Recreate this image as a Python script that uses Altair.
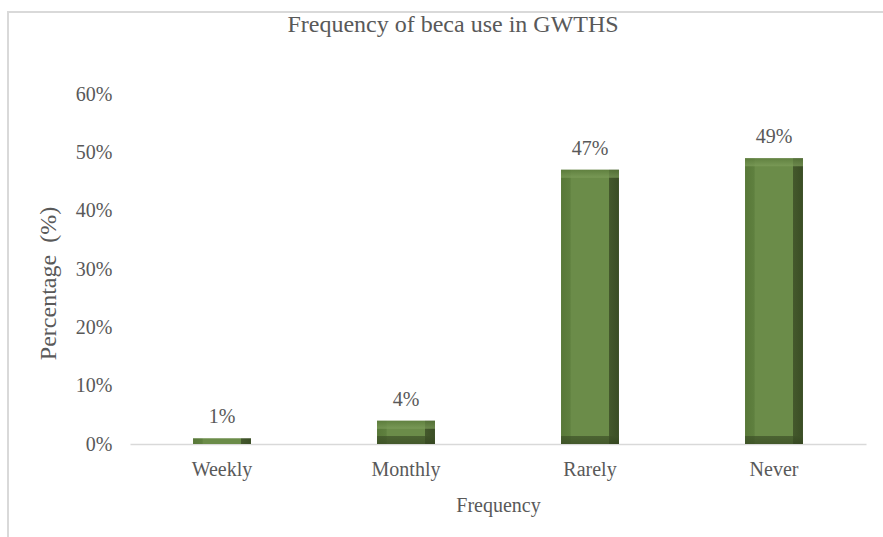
import altair as alt
import pandas as pd

# Survey results: how often beca is used
categories = ["Weekly", "Monthly", "Rarely", "Never"]
percentages = [1, 4, 47, 49]
y_ticks = [0, 10, 20, 30, 40, 50, 60]

df = pd.DataFrame({"freq": categories, "pct": percentages})
df["label"] = df["pct"].astype(str) + "%"

FONT = "Liberation Serif"
GREY = "#595959"

x_enc = alt.X(
    "freq:N",
    sort=categories,
    title="Frequency",
    scale=alt.Scale(paddingInner=0.685, paddingOuter=0.3425),
    axis=alt.Axis(
        labelAngle=0, labelFont=FONT, labelFontSize=20, labelColor=GREY,
        titleFont=FONT, titleFontSize=20, titleColor=GREY, titleFontWeight="normal",
        domainColor="#d9d9d9", domainWidth=1.5, ticks=False, labelPadding=15, titlePadding=16,
    ),
)
y_enc = alt.Y(
    "pct:Q",
    title="Percentage\u2002(%)",
    scale=alt.Scale(domain=[0, 60], nice=False),
    axis=alt.Axis(
        values=y_ticks, labelExpr="datum.value + '%'", grid=False, domain=False, ticks=False,
        labelFont=FONT, labelFontSize=20, labelColor=GREY, labelPadding=18,
        titleFont=FONT, titleFontSize=24, titleColor=GREY, titleFontWeight="normal", titlePadding=15,
        titleY=189,
    ),
)

# bevelled green bars
side_shade = alt.Gradient(
    gradient="linear", x1=0, x2=1, y1=0, y2=0,
    stops=[
        alt.GradientStop(offset=0, color="#587838"),
        alt.GradientStop(offset=0.16, color="#5f803f"),
        alt.GradientStop(offset=0.17, color="#6b8c49"),
        alt.GradientStop(offset=0.82, color="#6b8c49"),
        alt.GradientStop(offset=0.83, color="#44592c"),
        alt.GradientStop(offset=1, color="#3a4d25"),
    ],
)
bars = alt.Chart(df).mark_bar(color=side_shade).encode(x=x_enc, y=y_enc)

top_band = alt.Chart(df).transform_filter("datum.pct >= 4").mark_tick(
    orient="horizontal", thickness=8, size=58, yOffset=4,
    color=alt.Gradient(
        gradient="linear", x1=0, x2=0, y1=0, y2=1,
        stops=[alt.GradientStop(offset=0, color="#5c7c3c"),
               alt.GradientStop(offset=1, color="#7f9f5c")],
    ),
).encode(x=alt.X("freq:N", sort=categories), y="pct:Q")

bottom_band = alt.Chart(df).transform_filter("datum.pct >= 4").mark_tick(
    orient="horizontal", thickness=8, size=58, yOffset=-4,
    color=alt.Gradient(
        gradient="linear", x1=0, x2=0, y1=0, y2=1,
        stops=[alt.GradientStop(offset=0, color="#3e5228"),
               alt.GradientStop(offset=1, color="#33441f")],
    ),
).encode(x=alt.X("freq:N", sort=categories), y=alt.datum(0))

labels = alt.Chart(df).mark_text(
    font=FONT, fontSize=20, color=GREY, baseline="alphabetic", dy=-15
).encode(x=alt.X("freq:N", sort=categories), y="pct:Q", text="label:N")

# light frame around the whole chart area
frame = alt.Chart(df).mark_rect(
    fill=None, stroke="#d9d9d9", strokeWidth=1.5
).encode(x=alt.value(-122), x2=alt.value(780), y=alt.value(-82), y2=alt.value(470))

chart = alt.layer(frame, bars, top_band, bottom_band, labels).properties(
    width=736,
    height=350,
    autosize=alt.AutoSizeParams(type="none"),
    padding={"left": 130, "top": 94, "right": 17, "bottom": 93},
    title=alt.Title(
        "Frequency of beca use in GWTHS", font=FONT, fontSize=24, color=GREY,
        fontWeight="normal", anchor="middle", dx=-45, offset=-26,
    ),
).configure_view(stroke=None)

chart.save("out.html", embed_options={"renderer": "svg", "actions": False})
